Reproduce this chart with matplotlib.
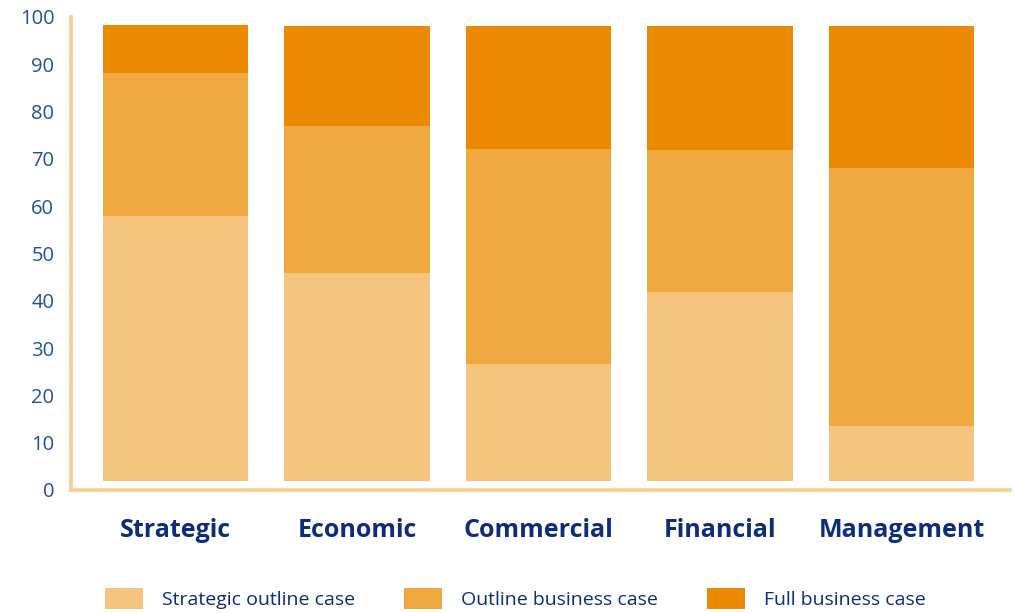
import matplotlib.pyplot as plt
import numpy as np

# stages of the business case (axis units)
categories = ["Strategic", "Economic", "Commercial", "Financial", "Management"]
strategic_outline = [56.0, 44.0, 24.7, 40.0, 11.6]
outline_business = [30.3, 31.1, 45.5, 30.0, 54.6]
full_business = [10.1, 21.1, 26.0, 26.2, 30.0]
series_names = ["Strategic outline case", "Outline business case", "Full business case"]
yticks = list(range(0, 101, 10))

colors = ["#F5C580", "#F0A840", "#EB8A00"]
spine_col = "#F8CE90"
tick_blue = "#2450A0"
label_blue = "#0D2C7C"
base = 1.9  # bars float a little above the axis in the original

fig = plt.figure(figsize=(10.14, 6.13), dpi=100)
ax = fig.add_axes([0.070, 0.2007, 0.926, 0.7716])

x = np.arange(len(categories))
bottom = np.full(len(categories), base)
for vals, col, name in zip([strategic_outline, outline_business, full_business], colors, series_names):
    ax.bar(x, vals, 0.8, bottom=bottom, color=col, label=name, linewidth=0)
    bottom = bottom + np.array(vals)

ax.set_xlim(-0.576, 4.598)
ax.set_ylim(0, 100)
ax.set_yticks(yticks)
ax.set_yticklabels([str(t) for t in yticks], family=["Open Sans", "DejaVu Sans"],
                   fontsize=14.5, color=tick_blue)
ax.set_xticks(x)
ax.set_xticklabels(categories, family=["Open Sans", "DejaVu Sans"],
                   fontweight="bold", fontsize=18, color=label_blue)
ax.tick_params(axis="y", length=0, pad=12)
ax.tick_params(axis="x", length=0, pad=20)

for s in ["top", "right"]:
    ax.spines[s].set_visible(False)
for s in ["left", "bottom"]:
    ax.spines[s].set_color(spine_col)
    ax.spines[s].set_linewidth(2.6)

leg = fig.legend(loc="lower left", bbox_to_anchor=(0.086, -0.022), ncol=3, frameon=False,
                 handlelength=1.95, handleheight=1.24, handletextpad=1.0, columnspacing=2.5,
                 prop={"family": ["Open Sans", "DejaVu Sans"], "size": 14})
for t in leg.get_texts():
    t.set_color(label_blue)

fig.savefig("out.png", dpi=100)
